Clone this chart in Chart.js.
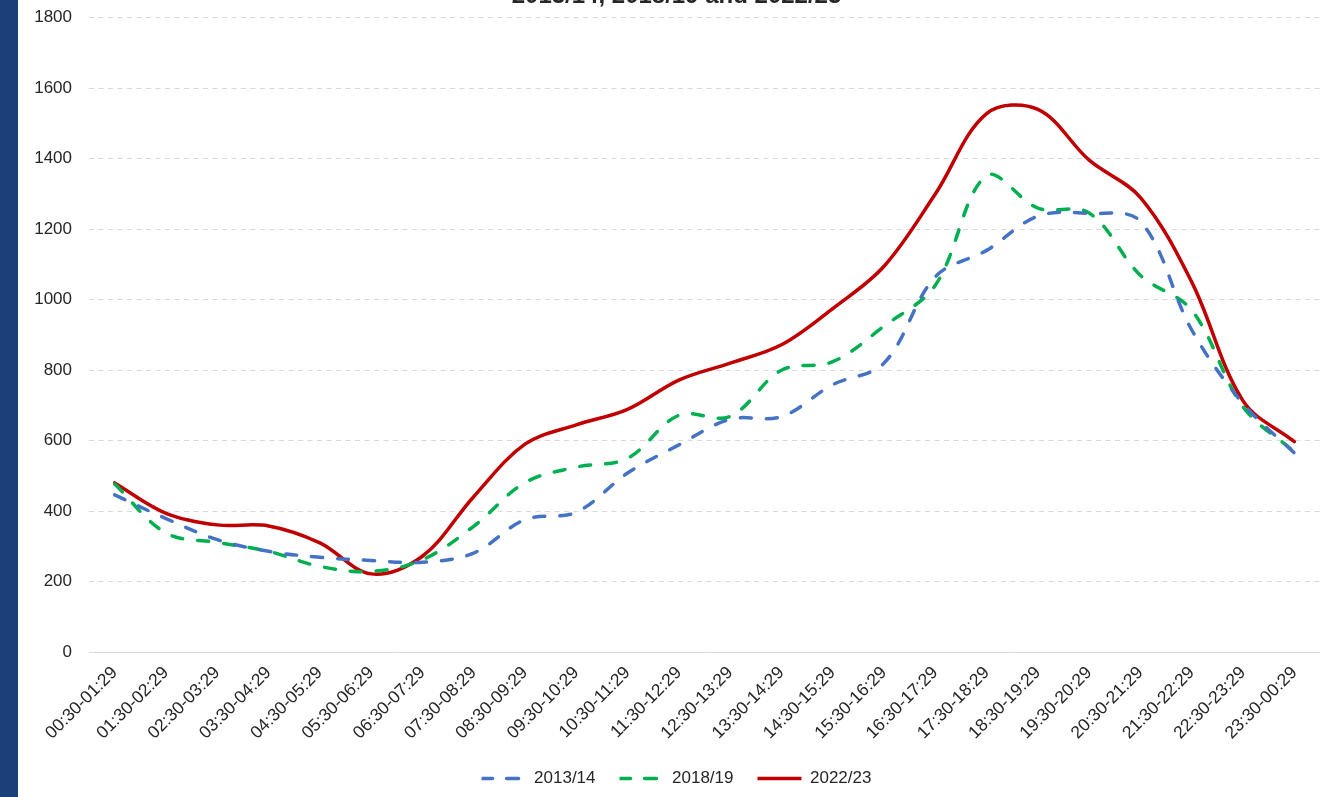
<!DOCTYPE html>
<html>
<head>
<meta charset="utf-8">
<script src="https://cdn.jsdelivr.net/npm/chart.js@4.4.1/dist/chart.umd.min.js"></script>
<style>
  html, body { margin: 0; padding: 0; background: #ffffff; overflow: hidden; }
  #frame { position: relative; width: 1342px; height: 797px; overflow: hidden; background: #ffffff; }
  #sidebar { position: absolute; left: 0; top: 0; width: 18px; height: 797px; background: #1b4079; z-index: 2; }
  #holder { position: absolute; left: 0; top: -40px; width: 1342px; height: 837px; }
</style>
</head>
<body>
<div id="frame">
  <div id="sidebar"></div>
  <div id="holder"><canvas id="hourly_chart"></canvas></div>
</div>
<script>
const hours = [
  '00:30-01:29', '01:30-02:29', '02:30-03:29', '03:30-04:29', '04:30-05:29', '05:30-06:29',
  '06:30-07:29', '07:30-08:29', '08:30-09:29', '09:30-10:29', '10:30-11:29', '11:30-12:29',
  '12:30-13:29', '13:30-14:29', '14:30-15:29', '15:30-16:29', '16:30-17:29', '17:30-18:29',
  '18:30-19:29', '19:30-20:29', '20:30-21:29', '21:30-22:29', '22:30-23:29', '23:30-00:29',
]

const years_2013_14 = [446, 379, 319, 286, 269, 260, 255, 281, 376, 397, 508, 588,
  661, 668, 759, 820, 1065, 1140, 1237, 1245, 1222, 914, 705, 565]
const years_2018_19 = [477, 338, 311, 286, 243, 229, 262, 357, 481, 525, 550, 672,
  669, 800, 824, 925, 1041, 1352, 1260, 1246, 1069, 970, 696, 568]
const years_2022_23 = [480, 394, 361, 358, 310, 222, 272, 441, 590, 645, 689, 772,
  820, 872, 975, 1095, 1300, 1528, 1540, 1396, 1290, 1050, 713, 597]

const yTicks = [0, 200, 400, 600, 800, 1000, 1200, 1400, 1600, 1800]

const textColor = '#262626'
const font = 'Liberation Sans, Arial, sans-serif'

const ctx = document.getElementById('hourly_chart').getContext('2d')

new Chart(ctx, {
  type: 'line',
  data: {
    labels: hours,
    datasets: [
      {
        label: '2013/14',
        data: years_2013_14,
        borderColor: '#4472c4',
        backgroundColor: '#4472c4',
        borderWidth: 3.5,
        borderDash: [11, 15],
        borderCapStyle: 'round',
      },
      {
        label: '2018/19',
        data: years_2018_19,
        borderColor: '#00b050',
        backgroundColor: '#00b050',
        borderWidth: 3.5,
        borderDash: [11, 15],
        borderCapStyle: 'round',
      },
      {
        label: '2022/23',
        data: years_2022_23,
        borderColor: '#c00000',
        backgroundColor: '#c00000',
        borderWidth: 3.5,
        borderCapStyle: 'round',
      },
    ],
  },
  options: {
    responsive: true,
    maintainAspectRatio: false,
    animation: false,
    layout: {
      padding: { left: 33, right: 22, top: 0, bottom: 0 },
    },
    elements: {
      point: { radius: 0, hoverRadius: 0 },
      line: { tension: 0.35, fill: false },
    },
    plugins: {
      title: {
        display: true,
        text: '2013/14, 2018/19 and 2022/23',
        color: textColor,
        font: { family: font, size: 24, weight: 'bold' },
        padding: { top: 22, bottom: 7 },
      },
      legend: {
        display: true,
        position: 'bottom',
        labels: {
          color: textColor,
          font: { family: font, size: 17 },
          boxWidth: 44,
          boxHeight: 0,
          padding: 24,
        },
      },
      tooltip: { enabled: false },
    },
    scales: {
      x: {
        offset: true,
        grid: { display: false },
        border: { display: false },
        ticks: {
          color: textColor,
          font: { family: font, size: 17.5 },
          autoSkip: false,
          minRotation: 45,
          maxRotation: 45,
          padding: 2.5,
        },
      },
      y: {
        min: 0,
        max: 1800,
        afterBuildTicks: (scale) => {
          scale.ticks = yTicks.map((v) => ({ value: v }))
        },
        afterFit: (scale) => {
          scale.width = 56
        },
        grid: {
          color: '#d9d9d9',
          lineWidth: 1,
          drawTicks: false,
        },
        border: {
          display: false,
          dash: (c) => (c.tick && c.tick.value === 0 ? [] : [5, 4.5]),
        },
        ticks: {
          color: textColor,
          font: { family: font, size: 17 },
          padding: 17,
          callback: (value) => String(value),
        },
      },
    },
  },
})
</script>
</body>
</html>
